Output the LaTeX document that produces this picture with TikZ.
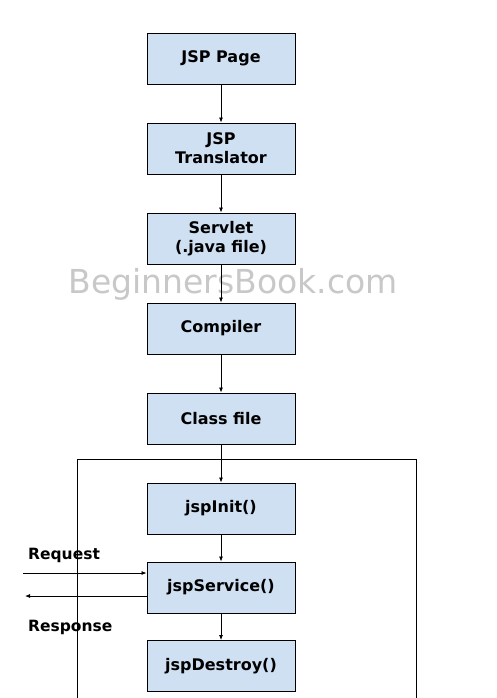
\documentclass[tikz,border=0pt]{standalone}
\usepackage{fontspec}
\setmainfont{DejaVu Sans}
\newfontfamily\wmfont{DejaVu Sans}
\definecolor{boxfill}{HTML}{CFE0F3}
\definecolor{wm}{HTML}{C8C8C8}
\begin{document}
\begin{tikzpicture}[x=1pt,y=-1pt,
  stage/.style={draw=black,fill=boxfill,line width=0.9pt,minimum width=148pt,minimum height=51pt,
    align=center,font=\fontsize{16}{19}\selectfont\bfseries,inner sep=0pt},
  flow/.style={-{Latex[length=5pt,width=4pt]},line width=0.8pt},
  lbl/.style={font=\fontsize{15.5}{18}\selectfont\bfseries,anchor=west,inner sep=0pt}]
\usetikzlibrary{arrows.meta}
\useasboundingbox[fill=white] (0,0) rectangle (496,698);
% lifecycle container (open at bottom)
\draw[line width=0.9pt] (77,698) -- (77,459) -- (416,459) -- (416,698);
\node[stage] (page) at (221,58.5) {JSP Page};
\node[stage] (trans) at (221,148.5) {JSP\\Translator};
\node[stage] (serv) at (221,238.5) {Servlet\\(.java file)};
\node[stage] (comp) at (221,328.5) {Compiler};
\node[stage] (cls) at (221,418.5) {Class file};
\node[stage] (init) at (221,508.5) {jspInit()};
\node[stage] (svc) at (221,587.5) {jspService()};
\node[stage] (dest) at (221,666) {jspDestroy()};
% watermark
\node[text=wm,font=\wmfont\fontsize{33}{36}\selectfont,inner sep=0pt] (wmark) at (233,284) {BeginnersBook.com};
\draw[flow] (page) -- (trans);
\draw[flow] (trans) -- (serv);
\draw[flow] (serv) -- (comp);
\draw[flow] (comp) -- (cls);
\draw[flow] (cls) -- (init);
\draw[flow] (init) -- (svc);
\draw[flow] (svc) -- (dest);
\coordinate (reqin) at (23,573);
\coordinate (respout) at (25,596);
\draw[flow] (reqin) -- (reqin -| svc.west);
\draw[flow] (respout -| svc.west) -- (respout);
\node[lbl] (req) at (28,555) {Request};
\node[lbl] (resp) at (28,627) {Response};
\end{tikzpicture}
\end{document}
